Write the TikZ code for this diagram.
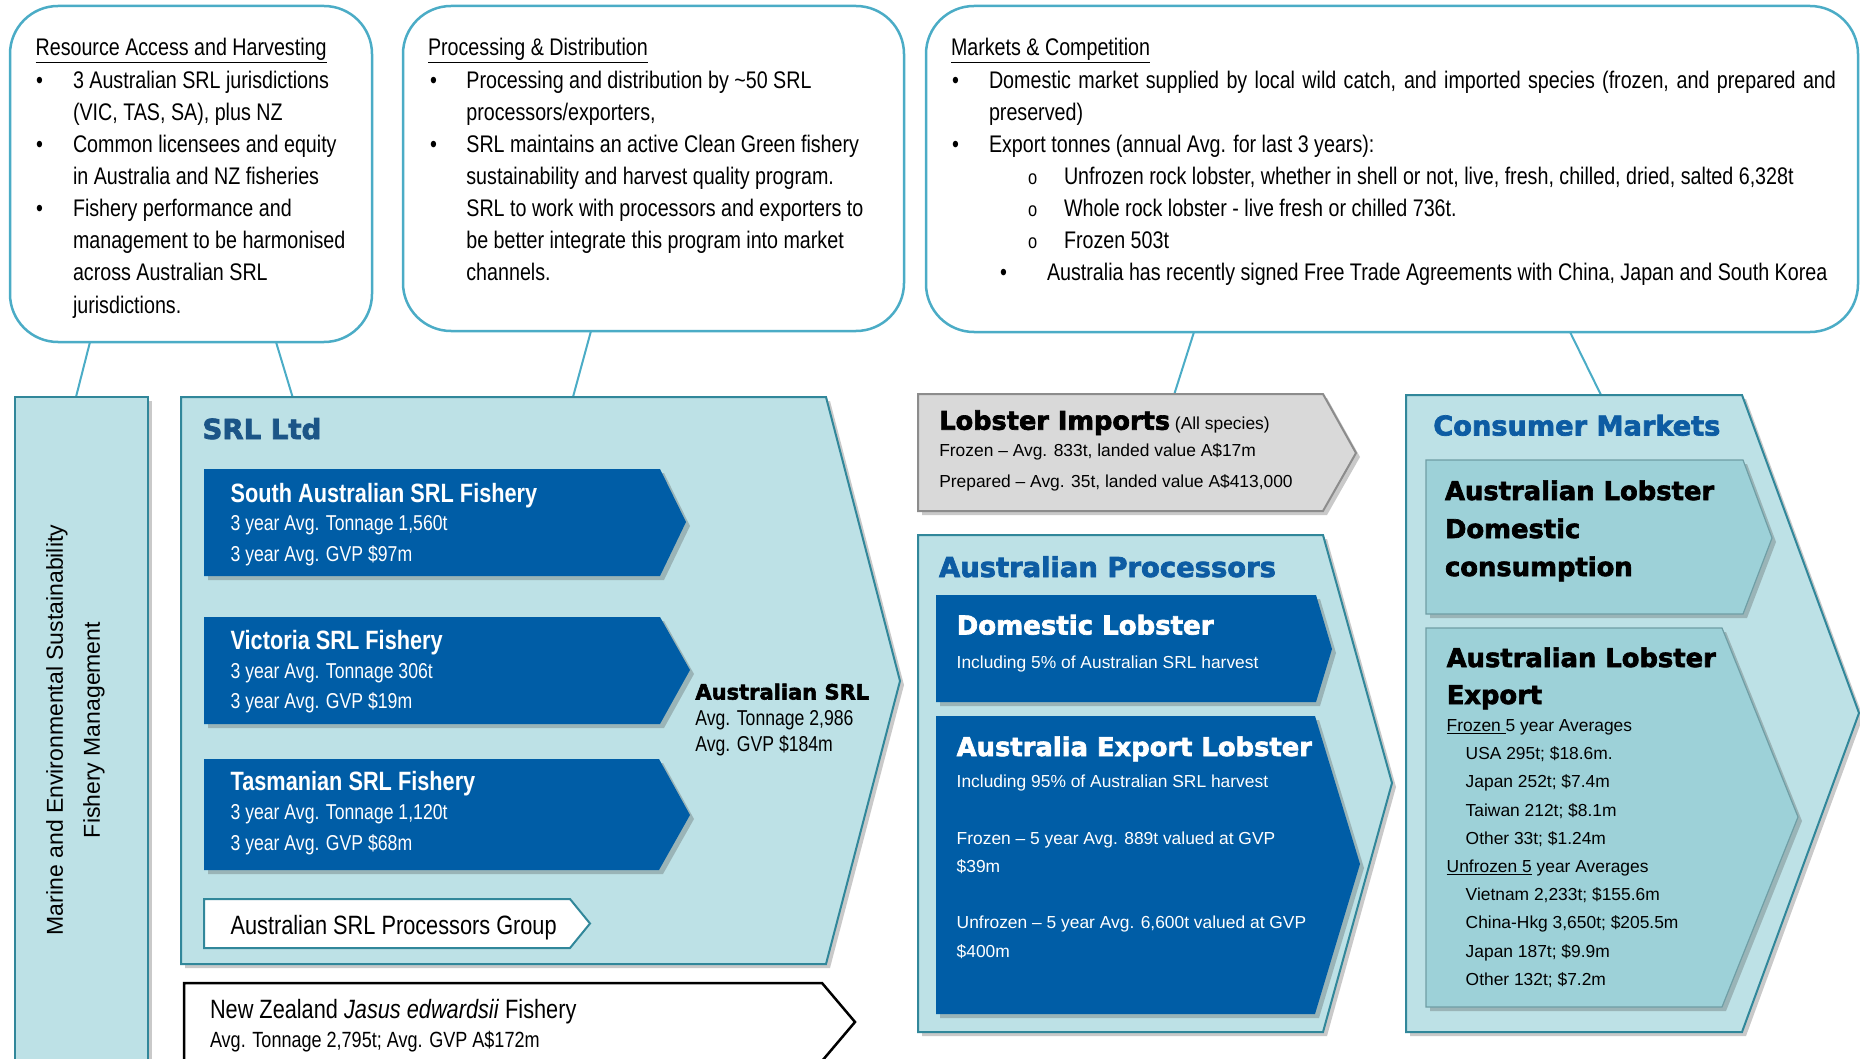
\documentclass[tikz,border=0pt]{standalone}
\usepackage{fontspec}
\setmainfont{Liberation Sans}
\newfontfamily\nar[FakeStretch=0.82]{Liberation Sans}
\newfontfamily\blk[FakeBold=2.6]{DejaVu Sans Bold}
\usetikzlibrary{shadows}
\definecolor{bubbleline}{HTML}{4BACC6}
\definecolor{panelline}{HTML}{31879A}
\definecolor{panelfill}{HTML}{BDE1E6}
\definecolor{subfill}{HTML}{9DD1D8}
\definecolor{subline}{HTML}{6F9EA5}
\definecolor{darkblue}{HTML}{005DA6}
\definecolor{greyfill}{HTML}{D9D9D9}
\definecolor{greyline}{HTML}{8C8C8C}
\definecolor{titleA}{HTML}{1B5587}
\definecolor{titleB}{HTML}{0D5CA3}
\begin{document}
\begin{tikzpicture}[x=1pt,y=-1pt,
  bubble/.style={draw=bubbleline,line width=2.5pt,rounded corners=48pt,fill=white},
  shad/.style={drop shadow={shadow xshift=4pt,shadow yshift=-4pt,opacity=0.3,fill=black!70}},
  panel/.style={shad,draw=panelline,line width=2pt,fill=panelfill},
  darkarrow/.style={shad,fill=darkblue},
  subpanel/.style={shad,fill=subfill,draw=subline,line width=1.2pt},
  greypanel/.style={shad,fill=greyfill,draw=greyline,line width=2pt},
  groupbox/.style={fill=white,draw=panelline,line width=2pt},
  nzbox/.style={fill=white,draw=black,line width=2.5pt},
  link/.style={draw=bubbleline,line width=2pt},
  txt/.style={anchor=base west,inner sep=0pt,outer sep=0pt},
  topf/.style={txt,font=\nar\fontsize{24}{30}\selectfont},
  subo/.style={txt,font=\nar\fontsize{20}{24}\selectfont},
  fishtitle/.style={txt,text=white,font=\nar\bfseries\fontsize{26.5}{30}\selectfont},
  fishline/.style={txt,text=white,font=\nar\fontsize{21.5}{26}\selectfont},
  narbig/.style={txt,font=\nar\fontsize{26.5}{30}\selectfont},
  narmid/.style={txt,font=\nar\fontsize{21.5}{26}\selectfont},
  heavy/.style={txt,font=\blk\fontsize{#1}{#1}\selectfont},
  small/.style={txt,font=\fontsize{17.4}{21}\selectfont},
  smallw/.style={small,text=white}
]
\useasboundingbox (0,0) rectangle (1860,1059);
\clip (0,0) rectangle (1860,1059);

% ---------- top bubbles ----------
\draw[bubble] (10,6) rectangle (372,342);
\draw[bubble] (403,6) rectangle (904,331);
\draw[bubble] (926,6) rectangle (1858,332);

% bubble 1
\node[topf] (b1h) at (35.6,56) {\underline{Resource Access and Harvesting}};
\node[topf] (b1p1) at (36,89) {\textbullet};
\node[topf] (b1l1) at (73,89) {3 Australian SRL jurisdictions};
\node[topf] (b1l2) at (73,121) {(VIC, TAS, SA), plus NZ};
\node[topf] (b1p2) at (36,153) {\textbullet};
\node[topf] (b1l3) at (73,153) {Common licensees and equity};
\node[topf] (b1l4) at (73,185) {in Australia and NZ fisheries};
\node[topf] (b1p3) at (36,217) {\textbullet};
\node[topf] (b1l5) at (73,217) {Fishery performance and};
\node[topf] (b1l6) at (73,249) {management to be harmonised};
\node[topf] (b1l7) at (73,281) {across Australian SRL};
\node[topf] (b1l8) at (73,313) {jurisdictions.};

% bubble 2
\node[topf] (b2h) at (428,56) {\underline{Processing \& Distribution}};
\node[topf] (b2p1) at (430,89) {\textbullet};
\node[topf] (b2l1) at (466.4,89) {Processing and distribution by \textasciitilde50 SRL};
\node[topf] (b2l2) at (466.4,121) {processors/exporters,};
\node[topf] (b2p2) at (430,153) {\textbullet};
\node[topf] (b2l3) at (466.4,153) {SRL maintains an active Clean Green fishery};
\node[topf] (b2l4) at (466.4,185) {sustainability and harvest quality program.};
\node[topf] (b2l5) at (466.4,217) {SRL to work with processors and exporters to};
\node[topf] (b2l6) at (466.4,249) {be better integrate this program into market};
\node[topf] (b2l7) at (466.4,281) {channels.};

% bubble 3
\node[topf] (b3h) at (951,56) {\underline{Markets \& Competition}};
\node[topf] (b3p1) at (952,89) {\textbullet};
\node[topf] (b3l1) at (989,89) {\makebox[847pt][s]{Domestic market supplied by local wild catch, and imported species (frozen, and prepared and}};
\node[topf] (b3l2) at (989,121) {preserved)};
\node[topf] (b3p2) at (952,153) {\textbullet};
\node[topf] (b3l3) at (989,153) {Export tonnes (annual Avg. for last 3 years):};
\node[subo] (b3o1) at (1028,185) {o};
\node[topf] (b3l4) at (1064,185) {Unfrozen rock lobster, whether in shell or not, live, fresh, chilled, dried, salted 6,328t};
\node[subo] (b3o2) at (1028,217) {o};
\node[topf] (b3l5) at (1064,217) {Whole rock lobster - live fresh or chilled 736t.};
\node[subo] (b3o3) at (1028,249) {o};
\node[topf] (b3l6) at (1064,249) {Frozen 503t};
\node[topf] (b3p3) at (1000,281) {\textbullet};
\node[topf] (b3l7) at (1047,281) {Australia has recently signed Free Trade Agreements with China, Japan and South Korea};

% ---------- connector end points ----------
\coordinate (k1a) at (90,342);   \coordinate (k1b) at (76,397);
\coordinate (k2a) at (276,342);  \coordinate (k2b) at (292.6,397);
\coordinate (k3a) at (591,331);  \coordinate (k3b) at (573,397);
\coordinate (k4a) at (1194,332); \coordinate (k4b) at (1174,395);
\coordinate (k5a) at (1570,332); \coordinate (k5b) at (1601,395);
\draw[link] (k1a) -- (k1b);
\draw[link] (k2a) -- (k2b);
\draw[link] (k3a) -- (k3b);
\draw[link] (k4a) -- (k4b);
\draw[link] (k5a) -- (k5b);

% ---------- left bar ----------
\path[panel] (15,397) rectangle (148,1075);
\node[inner sep=0pt,rotate=90,align=center,font=\fontsize{23}{37}\selectfont] (bar) at (75.5,730)
  {Marine and Environmental Sustainability\\Fishery Management};

% ---------- SRL Ltd ----------
\path[panel] (181,397) -- (826,397) -- (900,681) -- (826,964) -- (181,964) -- cycle;
\node[heavy=27.6,text=titleA] (srl) at (202.5,439) {SRL Ltd};

\path[darkarrow] (204,469) -- (660,469) -- (686,522) -- (660,576) -- (204,576) -- cycle;
\node[fishtitle] (sa) at (230.6,502) {South Australian SRL Fishery};
\node[fishline] (sa1) at (230.6,530.5) {3 year Avg. Tonnage 1,560t};
\node[fishline] (sa2) at (230.6,561) {3 year Avg. GVP \$97m};

\path[darkarrow] (204,617) -- (660,617) -- (690,670) -- (660,724) -- (204,724) -- cycle;
\node[fishtitle] (vic) at (230.6,649.5) {Victoria SRL Fishery};
\node[fishline] (vic1) at (230.6,678.5) {3 year Avg. Tonnage 306t};
\node[fishline] (vic2) at (230.6,708.5) {3 year Avg. GVP \$19m};

\path[darkarrow] (204,759) -- (659,759) -- (690,815) -- (659,870) -- (204,870) -- cycle;
\node[fishtitle] (tas) at (230.6,790.5) {Tasmanian SRL Fishery};
\node[fishline] (tas1) at (230.6,819.5) {3 year Avg. Tonnage 1,120t};
\node[fishline] (tas2) at (230.6,850) {3 year Avg. GVP \$68m};

\path[groupbox] (204,899) -- (570,899) -- (590,923.5) -- (570,948) -- (204,948) -- cycle;
\node[narbig] (grp) at (230.6,934) {Australian SRL Processors Group};

\node[heavy=21] (aus) at (695.4,699.5) {Australian SRL};
\node[narmid] (aus1) at (695.4,725.5) {Avg. Tonnage 2,986};
\node[narmid] (aus2) at (695.4,751) {Avg. GVP \$184m};

% ---------- New Zealand ----------
\path[nzbox] (184,983) -- (822,983) -- (855,1022) -- (822,1061) -- (184,1061) -- cycle;
\node[narbig] (nz) at (210,1018) {New Zealand \textit{Jasus edwardsii} Fishery};
\node[txt,font=\nar\fontsize{22}{26}\selectfont] (nz1) at (210,1047) {Avg. Tonnage 2,795t; Avg. GVP A\$172m};

% ---------- Lobster imports ----------
\path[greypanel] (918,394) -- (1323,394) -- (1356,453) -- (1323,511) -- (918,511) -- cycle;
\node[heavy=25.6] (imp) at (939.3,429.7) {Lobster Imports};
\node[small,anchor=base west] (impall) at (imp.base east) {\ (All species)};
\node[small] (imp1) at (939.3,456.5) {Frozen – Avg. 833t, landed value A\$17m};
\node[small] (imp2) at (939.3,487) {Prepared – Avg. 35t, landed value A\$413,000};

% ---------- Australian processors ----------
\path[panel] (918,535) -- (1323,535) -- (1392,783) -- (1323,1032) -- (918,1032) -- cycle;
\node[heavy=27.4,text=titleB] (proc) at (939,577) {Australian Processors};

\path[darkarrow] (936,595) -- (1316,595) -- (1332,649) -- (1316,702) -- (936,702) -- cycle;
\node[heavy=26,text=white] (dom) at (956.7,634.5) {Domestic Lobster};
\node[smallw] (dom1) at (956.7,668) {Including 5\% of Australian SRL harvest};

\path[darkarrow] (936,716) -- (1315,716) -- (1360,864) -- (1315,1014) -- (936,1014) -- cycle;
\node[heavy=25.8,text=white] (exp) at (956.7,756) {Australia Export Lobster};
\node[smallw] (exp1) at (956.7,787) {Including 95\% of Australian SRL harvest};
\node[smallw] (exp2) at (956.7,844) {Frozen – 5 year Avg. 889t valued at GVP};
\node[smallw] (exp3) at (956.7,872.5) {\$39m};
\node[smallw] (exp4) at (956.7,928) {Unfrozen – 5 year Avg. 6,600t valued at GVP};
\node[smallw] (exp5) at (956.7,957.5) {\$400m};

% ---------- Consumer markets ----------
\path[panel] (1406,395) -- (1742,395) -- (1859,713) -- (1742,1032) -- (1406,1032) -- cycle;
\node[heavy=27.2,text=titleB] (cm) at (1433.3,435.5) {Consumer Markets};

\path[subpanel] (1426,460) -- (1743,460) -- (1772,538) -- (1743,614) -- (1426,614) -- cycle;
\node[heavy=25.8] (cd1) at (1445,500) {Australian Lobster};
\node[heavy=25.8] (cd2) at (1445,538) {Domestic};
\node[heavy=25.8] (cd3) at (1445,576) {consumption};

\path[subpanel] (1426,628) -- (1722,628) -- (1798,817) -- (1722,1007) -- (1426,1007) -- cycle;
\node[heavy=25.8] (ce1) at (1446.7,667) {Australian Lobster};
\node[heavy=25.8] (ce2) at (1446.7,704) {Export};
\node[small] (fz) at (1446.7,731.6) {\underline{Frozen\ }5 year Averages};
\node[small] (fz1) at (1465.7,759) {USA 295t; \$18.6m.};
\node[small] (fz2) at (1465.7,787) {Japan 252t; \$7.4m};
\node[small] (fz3) at (1465.7,816) {Taiwan 212t; \$8.1m};
\node[small] (fz4) at (1465.7,844) {Other 33t; \$1.24m};
\node[small] (uf) at (1446.7,872.5) {\underline{Unfrozen 5} year Averages};
\node[small] (uf1) at (1465.7,900.7) {Vietnam 2,233t; \$155.6m};
\node[small] (uf2) at (1465.7,928) {China-Hkg 3,650t; \$205.5m};
\node[small] (uf3) at (1465.7,957.5) {Japan 187t; \$9.9m};
\node[small] (uf4) at (1465.7,985.7) {Other 132t; \$7.2m};
\end{tikzpicture}
\end{document}
